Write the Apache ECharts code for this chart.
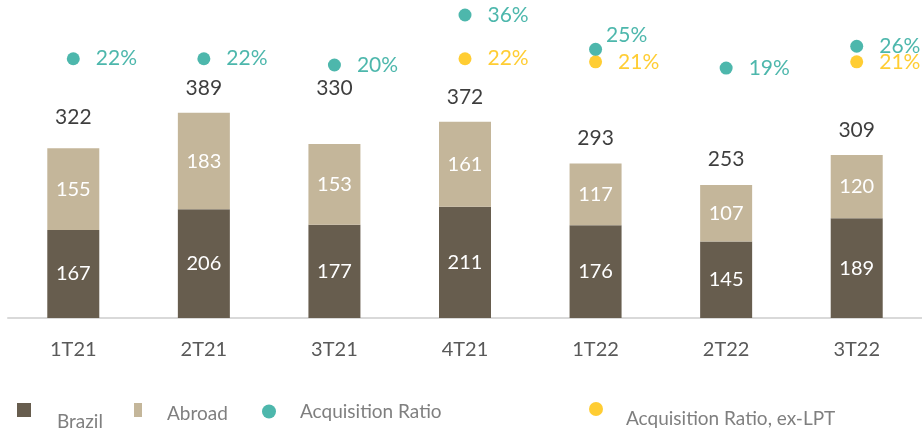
<!DOCTYPE html>
<html>
<head>
<meta charset="utf-8">
<script src="https://cdn.jsdelivr.net/npm/echarts@6/dist/echarts.min.js"></script>
<style>
html, body { margin: 0; padding: 0; background: #fff; }
#chart { width: 922px; height: 433px; }
</style>
</head>
<body>
<div id="chart"></div>
<script>
// values
var quarters = ['1T21', '2T21', '3T21', '4T21', '1T22', '2T22', '3T22'];
var brazil = [167, 206, 177, 211, 176, 145, 189];
var abroad = [155, 183, 153, 161, 117, 107, 120];
var totals = [322, 389, 330, 372, 293, 253, 309];
var acqRatio = [22, 22, 20, 36, 25, 19, 26];
var acqRatioExLpt = ['-', '-', '-', 22, 21, '-', 21];

var DARK = '#675d4e', LIGHT = '#c4b69a', TEAL = '#20a597', GOLD = '#ffc000';
var FONT = 'Lato';

// totals labels that sit higher than the rest in the original
var totalLift = { '1T21': 6, '3T21': 31 };

var chart = echarts.init(document.getElementById('chart'));

function pct(p) {
    return p.value + '%';
}

function legendBox(name, icon, left, top, w, padTop, padLeft) {
    return {
        data: [{ name: name, icon: icon }],
        left: left,
        top: top,
        padding: 0,
        itemWidth: w,
        itemHeight: 14,
        selectedMode: false,
        formatter: '{t|{name}}',
        textStyle: {
            rich: {
                t: {
                    fontFamily: FONT,
                    fontSize: 19,
                    color: '#7f7f7f',
                    padding: [padTop, 0, 0, padLeft]
                }
            }
        }
    };
}

var option = {
    animation: false,
    textStyle: { fontFamily: FONT },
    grid: { left: 8, right: 0, top: 0, bottom: 115 },
    xAxis: {
        type: 'category',
        data: quarters,
        axisTick: { show: false },
        axisLine: { lineStyle: { color: '#d9d9d9', width: 2 } },
        axisLabel: { color: '#595959', fontSize: 20, fontFamily: FONT, margin: 22 }
    },
    yAxis: [
        { type: 'value', min: 0, max: 603, show: false },
        { type: 'value', min: -61, max: 40.8, show: false }
    ],
    legend: [
        legendBox('Brazil', 'rect', 17, 403, 14, 24, 21),
        legendBox('Abroad', 'rect', 134, 403, 8, 8, 20),
        legendBox('Acquisition Ratio', 'circle', 262, 402, 14, 0, 19),
        legendBox('Acquisition Ratio, ex-LPT', 'circle', 589, 402, 14, 20, 18)
    ],
    series: [
        {
            name: 'Brazil',
            type: 'bar',
            stack: 'total',
            barWidth: 52,
            data: brazil,
            itemStyle: { color: DARK },
            label: { show: true, position: 'inside', color: '#fff', fontSize: 20, fontFamily: FONT }
        },
        {
            name: 'Abroad',
            type: 'bar',
            stack: 'total',
            barWidth: 52,
            data: abroad,
            itemStyle: { color: LIGHT },
            label: { show: true, position: 'inside', color: '#fff', fontSize: 20, fontFamily: FONT }
        },
        {
            name: 'Total',
            type: 'scatter',
            symbolSize: 1,
            itemStyle: { color: 'rgba(0,0,0,0)' },
            data: totals.map(function (v, i) {
                var lift = totalLift[quarters[i]] || 0;
                return { value: v, label: { offset: [0, -lift] } };
            }),
            label: { show: true, position: 'top', distance: 14, color: '#0d0d0d', fontSize: 21, fontFamily: FONT },
            z: 5
        },
        {
            name: 'Acquisition Ratio',
            type: 'scatter',
            yAxisIndex: 1,
            symbolSize: 13,
            data: acqRatio.map(function (v, i) {
                // 1T22 label sits up and to the right of its dot
                if (quarters[i] === '1T22') {
                    return { value: v, label: { offset: [-12, -14] } };
                }
                return v;
            }),
            itemStyle: { color: TEAL },
            label: { show: true, position: 'right', distance: 16, formatter: pct, color: TEAL, fontSize: 21, fontFamily: FONT },
            z: 4
        },
        {
            name: 'Acquisition Ratio, ex-LPT',
            type: 'scatter',
            yAxisIndex: 1,
            symbolSize: 13,
            data: acqRatioExLpt,
            itemStyle: { color: GOLD },
            label: { show: true, position: 'right', distance: 16, formatter: pct, color: GOLD, fontSize: 21, fontFamily: FONT },
            z: 3
        }
    ]
};

chart.setOption(option);
</script>
</body>
</html>
